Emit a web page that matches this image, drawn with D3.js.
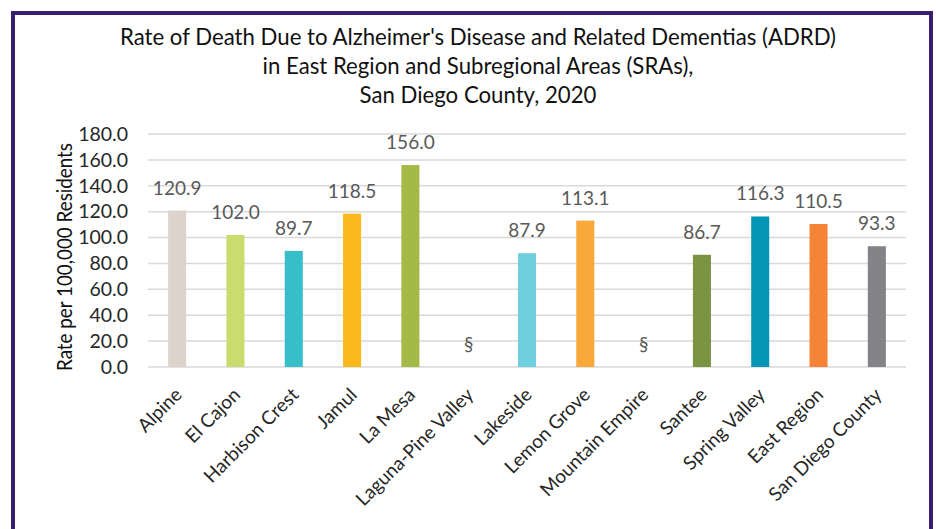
<!DOCTYPE html>
<html>
<head>
<meta charset="utf-8">
<script src="https://cdn.jsdelivr.net/npm/d3@7"></script>
<style>
  body { margin: 0; background: #fff; }
  svg { display: block; font-family: Lato, "Noto Sans", sans-serif; }
</style>
</head>
<body>
<svg id="chart"></svg>
<script>
const areas = ['Alpine', 'El Cajon', 'Harbison Crest', 'Jamul', 'La Mesa', 'Laguna-Pine Valley',
  'Lakeside', 'Lemon Grove', 'Mountain Empire', 'Santee', 'Spring Valley', 'East Region', 'San Diego County'];
// null = suppressed (shown as §)
const rates = [120.9, 102.0, 89.7, 118.5, 156.0, null, 87.9, 113.1, null, 86.7, 116.3, 110.5, 93.3];
const barColors = ['#dcd3cb', '#c9dc6d', '#37bfc9', '#fbb91e', '#a5b947', '#cccccc',
  '#70cfdd', '#f9a83a', '#cccccc', '#7a9443', '#0496b5', '#f58338', '#848488'];
const yTicks = [0, 20, 40, 60, 80, 100, 120, 140, 160, 180];
const titleLines = ["Rate of Death Due to Alzheimer's Disease and Related Dementias (ADRD)",
  'in East Region and Subregional Areas (SRAs),',
  'San Diego County, 2020'];

const width = 936, height = 529;
const plot = {left: 148, right: 906, top: 134, bottom: 367};

const svg = d3.select('#chart')
  .attr('width', width)
  .attr('height', height);

// purple frame
svg.append('rect')
  .attr('x', 13).attr('y', 13)
  .attr('width', 918).attr('height', 530)
  .attr('fill', 'none')
  .attr('stroke', '#3a1e6e')
  .attr('stroke-width', 4);

const x = d3.scaleBand()
  .domain(areas)
  .range([plot.left, plot.right])
  .paddingInner(0.69)
  .paddingOuter(0.345);

const y = d3.scaleLinear()
  .domain([0, 180])
  .range([plot.bottom, plot.top]);

// gridlines
svg.append('g')
  .selectAll('line')
  .data(yTicks)
  .join('line')
  .attr('x1', plot.left).attr('x2', plot.right)
  .attr('y1', d => y(d)).attr('y2', d => y(d))
  .attr('stroke', '#d9d9d9')
  .attr('stroke-width', 1.5);

// y axis
const yAxis = d3.axisLeft(y)
  .tickValues(yTicks)
  .tickFormat(d3.format('.1f'))
  .tickSize(0)
  .tickPadding(20);

svg.append('g')
  .attr('transform', 'translate(' + plot.left + ',0)')
  .call(yAxis)
  .call(g => g.select('.domain').remove())
  .selectAll('text')
  .attr('font-size', 19.5)
  .attr('font-family', 'Lato, sans-serif')
  .attr('fill', '#262626');

// x axis labels
const xAxis = d3.axisBottom(x).tickSize(0).tickPadding(0);
svg.append('g')
  .attr('transform', 'translate(0,' + plot.bottom + ')')
  .call(xAxis)
  .call(g => g.select('.domain').remove())
  .selectAll('text')
  .attr('font-size', 19)
  .attr('font-family', 'Lato, sans-serif')
  .attr('fill', '#262626')
  .attr('text-anchor', 'end')
  .attr('dy', 0)
  .attr('transform', 'translate(6,29) rotate(-45)');

// bars
svg.append('g')
  .selectAll('rect')
  .data(areas.map((a, i) => ({area: a, rate: rates[i], color: barColors[i]})).filter(d => d.rate !== null))
  .join('rect')
  .attr('x', d => x(d.area))
  .attr('width', x.bandwidth())
  .attr('y', d => y(d.rate))
  .attr('height', d => y(0) - y(d.rate))
  .attr('fill', d => d.color);

// value labels
svg.append('g')
  .selectAll('text')
  .data(areas.map((a, i) => ({area: a, rate: rates[i]})))
  .join('text')
  .attr('x', d => x(d.area) + x.bandwidth() / 2)
  .attr('y', d => y(d.rate === null ? 0 : d.rate) - 16)
  .attr('text-anchor', 'middle')
  .attr('font-size', 19)
  .attr('fill', '#595959')
  .text(d => d.rate === null ? '§' : d.rate.toFixed(1));

// axis title
svg.append('text')
  .attr('transform', 'translate(72,257) rotate(-90)')
  .attr('text-anchor', 'middle')
  .attr('font-size', 21)
  .attr('textLength', 228)
  .attr('lengthAdjust', 'spacingAndGlyphs')
  .attr('fill', '#111')
  .text('Rate per 100,000 Residents');

// title
svg.append('g')
  .selectAll('text')
  .data(titleLines)
  .join('text')
  .attr('x', 478)
  .attr('y', (d, i) => 45 + i * 29)
  .attr('text-anchor', 'middle')
  .attr('font-size', 22.2)
  .attr('fill', '#111')
  .text(d => d);
</script>
</body>
</html>
